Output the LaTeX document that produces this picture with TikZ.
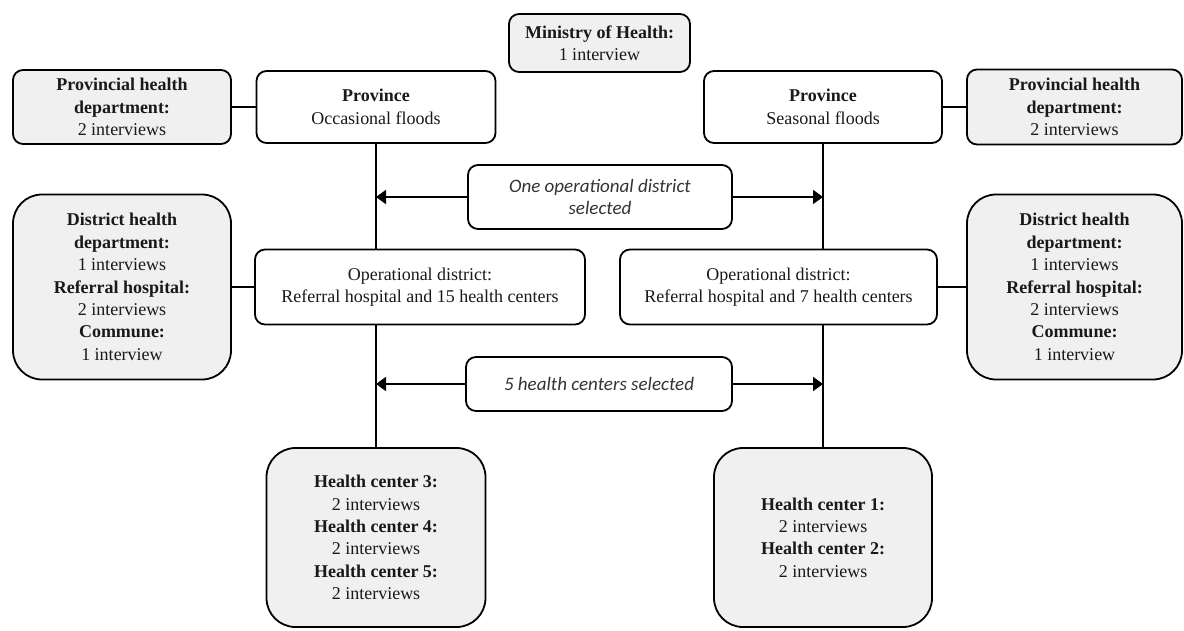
\documentclass[tikz,border=0pt]{standalone}
\usepackage{fontspec}
\setmainfont{Liberation Serif}
\newfontfamily\timesf{Liberation Serif}
\newfontfamily\carl{Carlito}
\usetikzlibrary{arrows.meta}
\begin{document}
\begin{tikzpicture}[x=1pt,y=-1pt,
  box/.style={draw=black, line width=1.8pt, rounded corners=10pt, align=center, inner sep=0pt,
    text=black!90, font=\timesf\fontsize{18}{22.4}\selectfont},
  graybox/.style={box, fill=black!6},
  bigcorner/.style={rounded corners=29pt},
  selbox/.style={box, font=\carl\itshape\fontsize{19}{22}\selectfont, text=black!80},
  conn/.style={line width=2pt},
  arr/.style={conn, -{Triangle[length=10pt,width=14pt]}}]
\useasboundingbox (0,0) rectangle (1184,630);

\node[graybox, minimum width=181pt, minimum height=58pt] (min) at (599.5,43)
  {\textbf{Ministry of Health:}\\1 interview};

\node[graybox, minimum width=218pt, minimum height=74pt] (phdL) at (122,107)
  {\textbf{Provincial health}\\\textbf{department:}\\2 interviews};
\node[box, minimum width=239pt, minimum height=72pt] (provL) at (376,107)
  {\textbf{Province}\\Occasional floods};
\node[box, minimum width=238pt, minimum height=72pt] (provR) at (823,107)
  {\textbf{Province}\\Seasonal floods};
\node[graybox, minimum width=215pt, minimum height=75pt] (phdR) at (1074.5,107)
  {\textbf{Provincial health}\\\textbf{department:}\\2 interviews};

\node[selbox, minimum width=264pt, minimum height=64pt] (sel1) at (600,197)
  {One operational district\\selected};

\node[graybox, bigcorner, minimum width=218pt, minimum height=185pt] (dhdL) at (122,287)
  {\textbf{District health}\\\textbf{department:}\\1 interviews\\\textbf{Referral hospital:}\\2 interviews\\\textbf{Commune:}\\1 interview};
\node[box, minimum width=330pt, minimum height=75pt] (opL) at (420,287)
  {Operational district:\\Referral hospital and 15 health centers};
\node[box, minimum width=317pt, minimum height=75pt] (opR) at (778.5,287)
  {Operational district:\\Referral hospital and 7 health centers};
\node[graybox, bigcorner, minimum width=215pt, minimum height=185pt] (dhdR) at (1074.5,287)
  {\textbf{District health}\\\textbf{department:}\\1 interviews\\\textbf{Referral hospital:}\\2 interviews\\\textbf{Commune:}\\1 interview};

\node[selbox, minimum width=266pt, minimum height=54pt] (sel2) at (599,384)
  {5 health centers selected};

\node[graybox, bigcorner, minimum width=219pt, minimum height=179pt] (hcL) at (376,537.5)
  {\textbf{Health center 3:}\\2 interviews\\\textbf{Health center 4:}\\2 interviews\\\textbf{Health center 5:}\\2 interviews};
\node[graybox, bigcorner, minimum width=218pt, minimum height=179pt] (hcR) at (823,537.5)
  {\textbf{Health center 1:}\\2 interviews\\\textbf{Health center 2:}\\2 interviews};

% connectors
\draw[conn] (phdL.east) -- (provL.west);
\draw[conn] (provR.east) -- (phdR.west);
\draw[conn] (dhdL.east) -- (opL.west);
\draw[conn] (opR.east) -- (dhdR.west);

\draw[conn] (provL.south) -- (provL.south |- opL.north);
\draw[conn] (provR.south) -- (provR.south |- opR.north);
\draw[conn] (hcL.north |- opL.south) -- (hcL.north);
\draw[conn] (hcR.north |- opR.south) -- (hcR.north);

\draw[arr] (sel1.west) -- (sel1.west -| provL.south);
\draw[arr] (sel1.east) -- (sel1.east -| provR.south);
\draw[arr] (sel2.west) -- (sel2.west -| hcL.north);
\draw[arr] (sel2.east) -- (sel2.east -| hcR.north);
\end{tikzpicture}
\end{document}
